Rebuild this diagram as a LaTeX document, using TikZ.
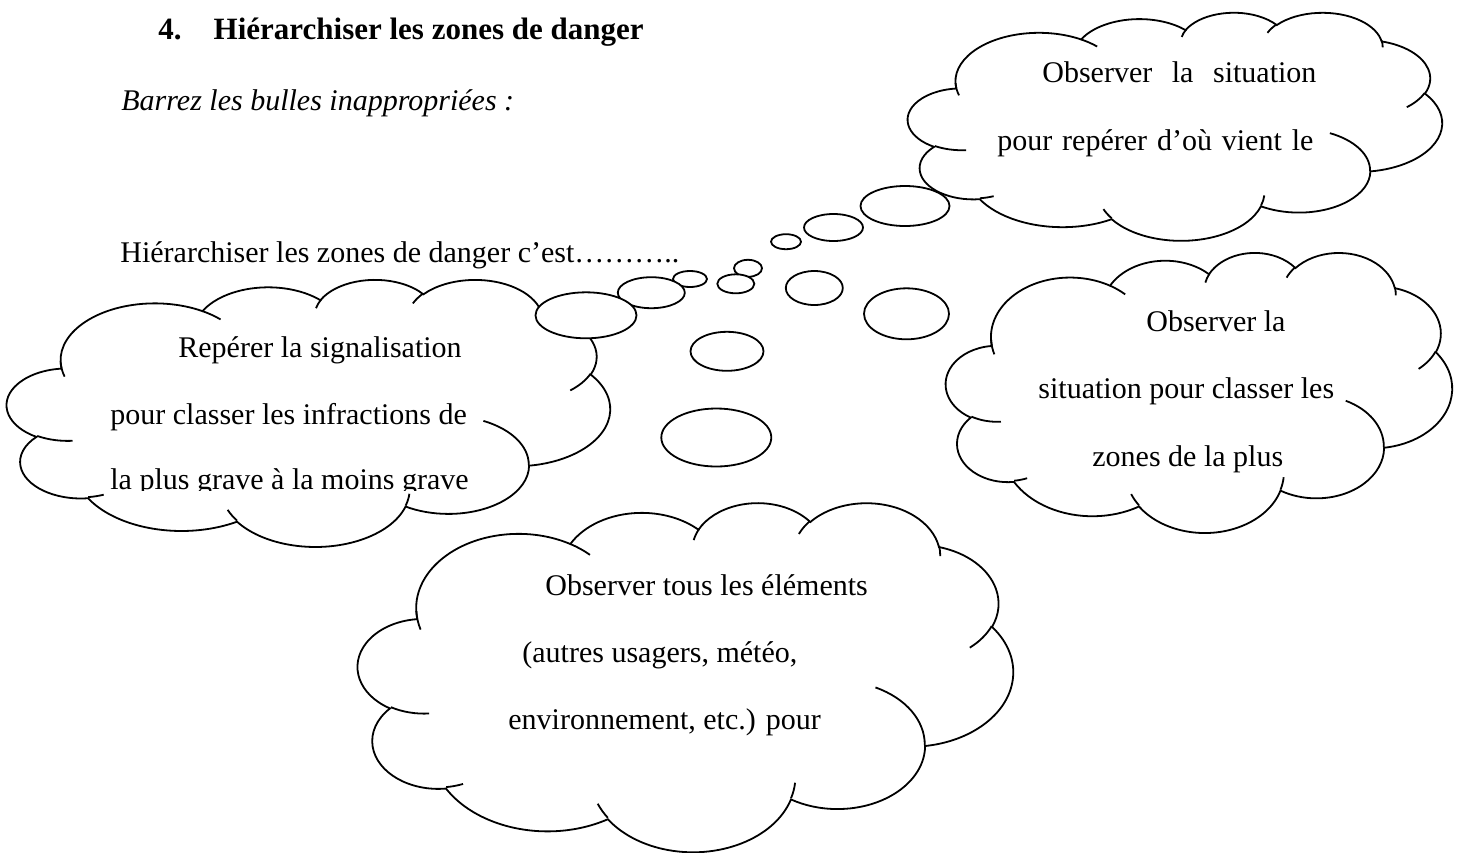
\documentclass[tikz,border=0pt]{standalone}
\usepackage{fontspec}
\setmainfont{Liberation Serif}
\usepackage{tikz}
\usetikzlibrary{positioning,shapes.geometric}

\tikzset{
  cloudline/.style={draw=black, line width=0.9pt},
  bubble/.style 2 args={ellipse, draw=black, line width=0.9pt, fill=white,
    inner sep=0pt, minimum width=#1*0.5pt, minimum height=#2*0.5pt},
  linetext/.style={anchor=base west, inner sep=0pt, font=\fontsize{15}{18}\selectfont},
  headtext/.style={anchor=base west, inner sep=0pt, font=\fontsize{15.5}{18}\selectfont\bfseries}
}

% one lobe of the cloud outline: radii, start angle and sweep (as Word gives them)
\newcommand{\lobe}[4]{arc[x radius=#1, y radius=#2,
  start angle={atan2(#1*sin(#3),#2*cos(#3))},
  delta angle={mod(atan2(#1*sin(#3+#4),#2*cos(#3+#4))-atan2(#1*sin(#3),#2*cos(#3))+720,360)}]}

% cloud in the box: left, top, width, height (px)
\newcommand{\wordcloud}[4]{%
  \begin{scope}[shift={(#1,#2)}, xscale=#3/43.2, yscale=#4/43.2]
    \draw[cloudline, fill=white] (3.900,14.370)
      \lobe{6.753}{9.190}{-190.4875}{123.7805}
      \lobe{5.333}{7.267}{-144.1024}{89.9452}
      \lobe{4.365}{5.945}{-145.8079}{99.7230}
      \lobe{4.857}{6.595}{-130.9861}{117.2417}
      \lobe{5.333}{7.273}{-78.7089}{109.0269}
      \lobe{6.775}{9.220}{-46.2673}{130.2690}
      \lobe{5.785}{7.867}{0.6250}{114.0333}
      \lobe{6.752}{9.215}{22.4516}{115.1726}
      \lobe{7.720}{10.543}{66.2426}{75.7110}
      \lobe{4.360}{5.918}{-274.9421}{146.7356}
      \lobe{4.345}{5.945}{-246.8285}{152.5189} -- cycle;
    \draw[cloudline]
      (4.693,26.177) \lobe{4.360}{5.918}{86.7420}{26.4295}
      (6.928,34.899) \lobe{4.345}{5.945}{73.6105}{11.4475}
      (16.478,39.090) \lobe{6.752}{9.215}{137.6242}{14.0811}
      (28.827,34.751) \lobe{6.752}{9.215}{6.4533}{15.9984}
      (34.129,22.954) \lobe{5.785}{7.867}{-70.2924}{70.9174}
      (41.798,15.354) \lobe{5.333}{7.273}{30.3180}{27.7515}
      (38.324,5.426) \lobe{4.857}{6.595}{-13.7443}{14.8589}
      (29.078,3.952) \lobe{4.857}{6.595}{-149.1815}{18.1954}
      (22.141,4.720) \lobe{4.365}{5.945}{-163.4943}{17.6864}
      (14.000,5.192) \lobe{6.753}{9.190}{-66.7070}{12.3194}
      (4.127,15.789) \lobe{6.753}{9.190}{157.8688}{19.2034};
  \end{scope}}

\begin{document}
\begin{tikzpicture}[x=0.5pt, y=-0.5pt]
  \useasboundingbox (0,0) rectangle (1461,852);

  % heading and question
  \node[headtext] (title) at (158,39) {4.\hspace{16pt}Hiérarchiser les zones de danger};
  \node[linetext, font=\fontsize{15}{18}\selectfont\itshape] (instr) at (121,110) {Barrez les bulles inappropriées :};
  \node[linetext] (prompt) at (120,262) {Hiérarchiser les zones de danger c’est………..};

  % top right cloud
  \wordcloud{908}{12}{534}{228}
  \node[linetext] (a1) at (1042,82) {\makebox[137pt][s]{Observer la situation}};
  \node[linetext] (a2) at (997,150) {\makebox[158pt][s]{pour repérer d’où vient le}};

  % left cloud
  \wordcloud{7}{279}{603}{267}
  \node[linetext] (b1) at (178,357) {Repérer la signalisation};
  \node[linetext] (b2) at (110,424) {pour classer les infractions de};
  \begin{scope}
    \clip (0,0) rectangle (1461,490);
    \node[linetext] (b3) at (110,489) {la plus grave à la moins grave};
  \end{scope}

  % right cloud
  \wordcloud{946}{252}{506}{280}
  \node[linetext] (c1) at (1146,331) {Observer la};
  \node[linetext] (c2) at (1038,398) {situation pour classer les};
  \node[linetext] (c3) at (1092,466) {zones de la plus};

  % bottom cloud
  \wordcloud{358}{502}{655}{349}
  \node[linetext] (d1) at (545,595) {Observer tous les éléments};
  \node[linetext] (d2) at (522,662) {(autres usagers, météo,};
  \node[linetext] (d3) at (508,729) {environnement, etc.) pour};

  % thought bubbles
  \node[bubble={89}{40}] (bub1) at (905,206) {};
  \node[bubble={59}{27}] (bub2) at (833.5,227.5) {};
  \node[bubble={30}{15}] (bub3) at (786,241.7) {};
  \node[bubble={28}{17}] (bub4) at (748,268.3) {};
  \node[bubble={37}{19}] (bub5) at (735.8,283.8) {};
  \node[bubble={34}{16}] (bub6) at (690,279) {};
  \node[bubble={67}{31}] (bub7) at (651.3,292.7) {};
  \node[bubble={101}{46}] (bub8) at (586,315.3) {};
  \node[bubble={57}{34}] (bub9) at (814.3,288) {};
  \node[bubble={85}{51}] (bub10) at (906.5,313.8) {};
  \node[bubble={73}{39}] (bub11) at (727,351.3) {};
  \node[bubble={110}{58}] (bub12) at (716.3,437.5) {};
\end{tikzpicture}
\end{document}
